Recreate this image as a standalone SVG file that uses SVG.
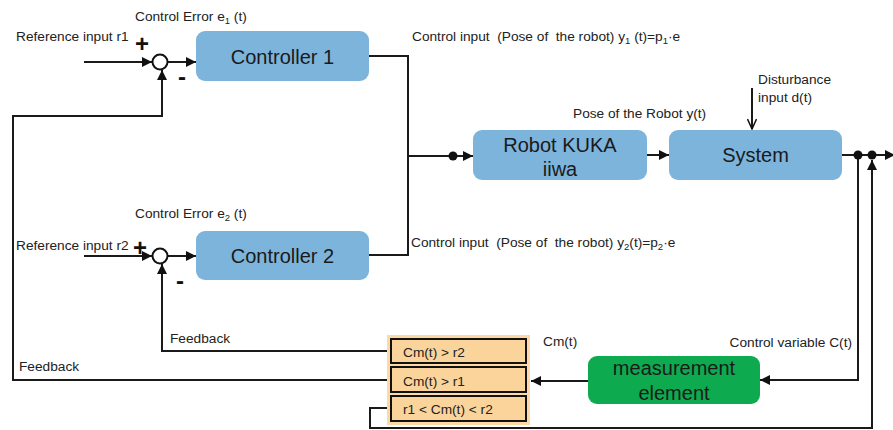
<svg xmlns="http://www.w3.org/2000/svg" width="893" height="430" viewBox="0 0 893 430">
<defs>
<style>
.lbl{font-family:"Liberation Sans",Arial,sans-serif;font-size:13.7px;fill:#222}
.big{font-family:"Liberation Sans",Arial,sans-serif;font-size:20px;fill:#1a1a1a;text-anchor:middle}
.sign{font-family:"Liberation Sans",Arial,sans-serif;font-size:24px;font-weight:bold;fill:#111;text-anchor:middle}
.blue{fill:#7db4db}
.green{fill:#0daa4f}
.cond{fill:#fbd49c;stroke:#111;stroke-width:2}
.ln{fill:none;stroke:#1a1a1a;stroke-width:2}
.dot{fill:#111}
.sum{fill:#fff;stroke:#111;stroke-width:2}
.sub{font-size:9.5px}
</style>
<marker id="ah" viewBox="0 0 10 10" refX="10" refY="5" markerWidth="5" markerHeight="5" orient="auto" markerUnits="strokeWidth">
<path d="M0,0 L10,5 L0,10 Z" fill="#111"/>
</marker>
<marker id="open" viewBox="0 0 12 10" refX="11" refY="5" markerWidth="6" markerHeight="5" orient="auto" markerUnits="strokeWidth">
<path d="M1,0.5 L11,5 L1,9.5" fill="none" stroke="#111" stroke-width="1.5"/>
</marker>
</defs>
<rect width="893" height="430" fill="#fff"/>

<g id="connectors">
<path class="ln" d="M84,62 H152" marker-end="url(#ah)"/>
<path class="ln" d="M84,256 H152" marker-end="url(#ah)"/>
<path class="ln" d="M168,62 H196" marker-end="url(#ah)"/>
<path class="ln" d="M168,256 H196" marker-end="url(#ah)"/>
<path class="ln" d="M369,56 H408 V255 H369"/>
<path class="ln" d="M408,156 H453"/>
<path class="ln" d="M453,156 H473" marker-end="url(#ah)"/>
<path class="ln" d="M647,155 H669" marker-end="url(#ah)"/>
<path class="ln" d="M752,88 V129" marker-end="url(#open)"/>
<path class="ln" d="M842,155 H895" marker-end="url(#ah)"/>
<path class="ln" d="M858,155 V380 H760" marker-end="url(#ah)"/>
<path class="ln" d="M588,381 H531" marker-end="url(#ah)"/>
<path class="ln" d="M391,351 H162 V264" marker-end="url(#ah)"/>
<path class="ln" d="M391,380 H13 V116 H162 V70" marker-end="url(#ah)"/>
<path class="ln" d="M391,408 H370 V428 H872 V160" marker-end="url(#ah)"/>
</g>

<g id="junctions">
<circle class="dot" cx="453" cy="156" r="4.5"/>
<circle class="dot" cx="858" cy="155" r="4.5"/>
<circle class="dot" cx="872" cy="155" r="4.5"/>
</g>

<g id="sum1">
<circle class="sum" cx="160" cy="62" r="7.5"/>
<text class="sign" x="142" y="52">+</text>
<text class="sign" x="182" y="85">-</text>
</g>
<g id="sum2">
<circle class="sum" cx="160" cy="256" r="7.5"/>
<text class="sign" x="140" y="256">+</text>
<text class="sign" x="180" y="289">-</text>
</g>

<g id="controller1">
<rect class="blue" x="196" y="31" width="173" height="50" rx="9"/>
<text class="big" x="282.5" y="64">Controller 1</text>
</g>
<g id="controller2">
<rect class="blue" x="196" y="231" width="173" height="49" rx="9"/>
<text class="big" x="282.5" y="263">Controller 2</text>
</g>
<g id="robot">
<rect class="blue" x="473" y="130" width="174" height="50" rx="9"/>
<text class="big" x="560" y="152">Robot KUKA</text>
<text class="big" x="560" y="176">iiwa</text>
</g>
<g id="system">
<rect class="blue" x="669" y="130" width="173" height="50" rx="9"/>
<text class="big" x="755.5" y="162">System</text>
</g>
<g id="measurement">
<rect class="green" x="588" y="356" width="172" height="48" rx="9"/>
<text class="big" x="674" y="375">measurement</text>
<text class="big" x="674" y="400">element</text>
</g>
<g id="conditions">
<rect x="387" y="335" width="143" height="90" fill="#fdd9a6"/>
<rect class="cond" x="391" y="339" width="135" height="24"/>
<rect class="cond" x="391" y="367" width="135" height="25"/>
<rect class="cond" x="391" y="396" width="135" height="25"/>
<text class="lbl" x="403" y="357">Cm(t) &gt; r2</text>
<text class="lbl" x="403" y="386">Cm(t) &gt; r1</text>
<text class="lbl" x="403" y="414">r1 &lt; Cm(t) &lt; r2</text>
</g>

<g id="labels">
<text class="lbl" x="16" y="41">Reference input r1</text>
<text class="lbl" x="16" y="250">Reference input r2</text>
<text class="lbl" x="135" y="21">Control Error e<tspan class="sub" dy="3">1</tspan><tspan dy="-3"> (t)</tspan></text>
<text class="lbl" x="135" y="218">Control Error e<tspan class="sub" dy="3">2</tspan><tspan dy="-3"> (t)</tspan></text>
<text class="lbl" x="412" y="41" xml:space="preserve">Control input  (Pose of  the robot) y<tspan class="sub" dy="3">1</tspan><tspan dy="-3"> (t)=p</tspan><tspan class="sub" dy="3">1</tspan><tspan dy="-3">·e</tspan></text>
<text class="lbl" x="411" y="247" xml:space="preserve">Control input  (Pose of  the robot) y<tspan class="sub" dy="3">2</tspan><tspan dy="-3">(t)=p</tspan><tspan class="sub" dy="3">2</tspan><tspan dy="-3">·e</tspan></text>
<text class="lbl" x="573" y="118">Pose of the Robot y(t)</text>
<text class="lbl" x="758" y="84">Disturbance</text>
<text class="lbl" x="758" y="102">input d(t)</text>
<text class="lbl" x="852" y="347" text-anchor="end">Control variable C(t)</text>
<text class="lbl" x="543" y="346">Cm(t)</text>
<text class="lbl" x="170" y="343">Feedback</text>
<text class="lbl" x="19" y="371">Feedback</text>
</g>
</svg>
